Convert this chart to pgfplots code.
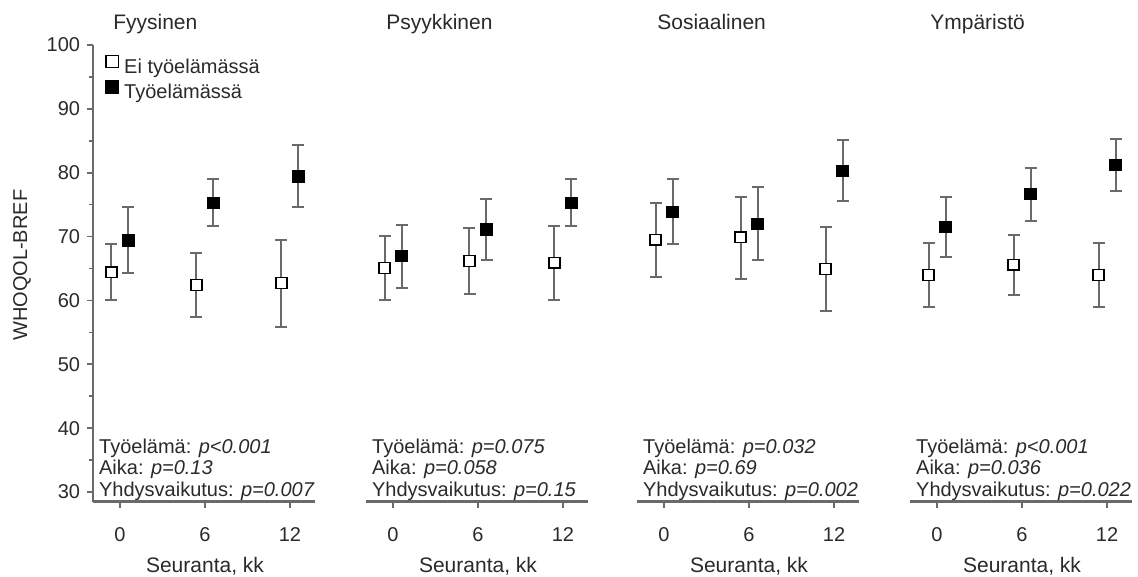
\documentclass[border=0pt]{standalone}
\usepackage{pgfplots}
\pgfplotsset{compat=1.18}
\usepackage{pgfplotstable}
\usepackage{fontspec}
\setmainfont{Liberation Sans}
\definecolor{axgray}{HTML}{6A6A6A}
\definecolor{txt}{HTML}{2A2A2A}

% Fyysinen
\pgfplotstableread{
x y ep em
-0.6 64.4 4.4 4.4
5.4 62.4 5.1 5.0
11.4 62.7 6.8 6.9
}\FyO
\pgfplotstableread{
x y ep em
0.6 69.4 5.3 5.1
6.6 75.3 3.7 3.7
12.6 79.4 5.0 4.8
}\FyT
% Psyykkinen
\pgfplotstableread{
x y ep em
-0.6 65.1 5.0 5.1
5.4 66.2 5.2 5.2
11.4 65.9 5.8 5.9
}\PsO
\pgfplotstableread{
x y ep em
0.6 66.9 4.9 4.9
6.6 71.1 4.8 4.7
12.6 75.3 3.7 3.7
}\PsT
% Sosiaalinen
\pgfplotstableread{
x y ep em
-0.6 69.5 5.8 5.9
5.4 69.9 6.3 6.5
11.4 64.9 6.6 6.5
}\SoO
\pgfplotstableread{
x y ep em
0.6 73.9 5.1 5.1
6.6 72.0 5.8 5.7
12.6 80.3 4.8 4.7
}\SoT
% Ymparisto
\pgfplotstableread{
x y ep em
-0.6 64.0 5.0 5.1
5.4 65.6 4.7 4.7
11.4 64.0 5.0 5.1
}\YmO
\pgfplotstableread{
x y ep em
0.6 71.5 4.7 4.7
6.6 76.7 4.1 4.2
12.6 81.2 4.1 4.0
}\YmT

\pgfplotsset{
  panel/.style={
    anchor=south west,
    x=7.083pt, y=3.193pt,
    xmin=-1.9, xmax=13.76, ymin=28.5, ymax=100,
    axis x line*=bottom,
    xtick={0,6,12},
    tick align=outside,
    x axis line style={axgray, line width=1.4pt, -},
    xtick style={axgray, line width=0.8pt},
    major tick length=3pt, minor tick length=2pt,
    clip=false,
    xlabel={Seuranta, kk},
    every axis x label/.style={at={(rel axis cs:0.5045,0)}, anchor=center, yshift=-32.5pt, font=\fontsize{10.5}{12}\selectfont, text=txt},
    ticklabel style={font=\fontsize{10}{12}\selectfont, text=txt},
    xticklabel style={yshift=-6.5pt},
    /pgf/number format/assume math mode=true,
    legend image code/.code={\draw[##1, /tikz/mark size=3.1pt] plot coordinates {(0pt,3.5pt)};},
  },
  noy/.style={axis y line=none, ytick=\empty},
  openm/.style={only marks, mark=square*, mark size=2.7pt,
    mark options={fill=white, draw=black, line width=0.7pt, solid},
    error bars/.cd, y dir=both, y explicit,
    error bar style={axgray, line width=1pt},
    error mark options={rotate=90, axgray, line width=1pt, mark size=3pt}},
  workm/.style={only marks, mark=square*, mark size=2.7pt,
    mark options={fill=black, draw=black, line width=0.7pt, solid},
    error bars/.cd, y dir=both, y explicit,
    error bar style={axgray, line width=1pt},
    error mark options={rotate=90, axgray, line width=1pt, mark size=3pt}},
}
\newcommand{\ptxt}{\fontsize{10}{11}\selectfont}
\newcommand{\ttxt}{\fontsize{10.5}{12}\selectfont}
\tikzset{ttl/.style={anchor=base west, font=\ttxt, text=txt, inner sep=0pt},
         pv/.style={anchor=base west, font=\ptxt, text=txt, inner sep=0pt}}

\begin{document}
\begin{tikzpicture}
\path[use as bounding box] (0,0) rectangle (569pt,288.5pt);

% Panel 1
\begin{axis}[panel, at={(46.54pt,37.7pt)},
  axis y line*=left,
  ytick={30,40,...,100}, minor ytick={35,45,...,95},
  y axis line style={axgray, line width=0.9pt, -},
  ytick style={axgray, line width=0.8pt},
  ylabel={WHOQOL-BREF},
  every axis y label/.style={at={(rel axis cs:0,0.5)}, xshift=-35.5pt, yshift=4pt, rotate=90, anchor=center, font=\fontsize{10}{12}\selectfont, text=txt},
  legend style={at={(axis cs:-1.0,98.4)}, anchor=north west, draw=none, fill=none,
    inner sep=0pt, outer sep=0pt, row sep=1.5pt, column sep=3pt,
    nodes={inner sep=0pt, text height=7pt, text depth=2pt, font=\ptxt, text=txt}},
  legend cell align=left,
]
\addplot[openm] table[x=x, y=y, y error plus=ep, y error minus=em] {\FyO};
\addlegendentry{Ei työelämässä}
\addplot[workm] table[x=x, y=y, y error plus=ep, y error minus=em] {\FyT};
\addlegendentry{Työelämässä}
\node[ttl] at (axis cs:-0.5,102.4) {Fyysinen};
\node[pv] at (axis cs:-1.5,36.1) {Työelämä: \textit{p<0.001}};
\node[pv] at (axis cs:-1.5,32.7) {Aika: \textit{p=0.13}};
\node[pv] at (axis cs:-1.5,29.3) {Yhdysvaikutus: \textit{p=0.007}};
\end{axis}

% Panel 2
\begin{axis}[panel, noy, at={(183.04pt,37.7pt)}]
\addplot[openm] table[x=x, y=y, y error plus=ep, y error minus=em] {\PsO};
\addplot[workm] table[x=x, y=y, y error plus=ep, y error minus=em] {\PsT};
\node[ttl] at (axis cs:-0.5,102.4) {Psyykkinen};
\node[pv] at (axis cs:-1.5,36.1) {Työelämä: \textit{p=0.075}};
\node[pv] at (axis cs:-1.5,32.7) {Aika: \textit{p=0.058}};
\node[pv] at (axis cs:-1.5,29.3) {Yhdysvaikutus: \textit{p=0.15}};
\end{axis}

% Panel 3
\begin{axis}[panel, noy, at={(318.54pt,37.7pt)}]
\addplot[openm] table[x=x, y=y, y error plus=ep, y error minus=em] {\SoO};
\addplot[workm] table[x=x, y=y, y error plus=ep, y error minus=em] {\SoT};
\node[ttl] at (axis cs:-0.5,102.4) {Sosiaalinen};
\node[pv] at (axis cs:-1.5,36.1) {Työelämä: \textit{p=0.032}};
\node[pv] at (axis cs:-1.5,32.7) {Aika: \textit{p=0.69}};
\node[pv] at (axis cs:-1.5,29.3) {Yhdysvaikutus: \textit{p=0.002}};
\end{axis}

% Panel 4
\begin{axis}[panel, noy, at={(455.04pt,37.7pt)}]
\addplot[openm] table[x=x, y=y, y error plus=ep, y error minus=em] {\YmO};
\addplot[workm] table[x=x, y=y, y error plus=ep, y error minus=em] {\YmT};
\node[ttl] at (axis cs:-0.5,102.4) {Ympäristö};
\node[pv] at (axis cs:-1.5,36.1) {Työelämä: \textit{p<0.001}};
\node[pv] at (axis cs:-1.5,32.7) {Aika: \textit{p=0.036}};
\node[pv] at (axis cs:-1.5,29.3) {Yhdysvaikutus: \textit{p=0.022}};
\end{axis}
\end{tikzpicture}
\end{document}
